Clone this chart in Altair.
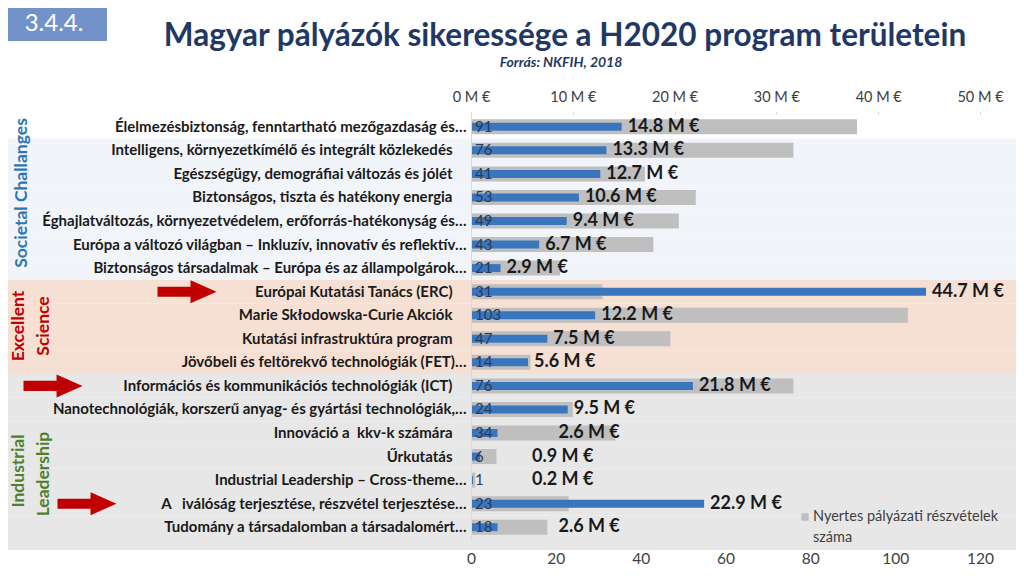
import altair as alt
import pandas as pd

# ---------------- data ----------------
categories = [
    "Élelmezésbiztonság, fenntartható mezőgazdaság és…",
    "Intelligens, környezetkímélő és integrált közlekedés",
    "Egészségügy, demográfiai változás és jólét",
    "Biztonságos, tiszta és hatékony energia",
    "Éghajlatváltozás, környezetvédelem, erőforrás-hatékonyság és…",
    "Európa a változó világban – Inkluzív, innovatív és reflektív…",
    "Biztonságos társadalmak – Európa és az állampolgárok…",
    "Európai Kutatási Tanács (ERC)",
    "Marie Skłodowska-Curie Akciók",
    "Kutatási infrastruktúra program",
    "Jövőbeli és feltörekvő technológiák (FET)…",
    "Információs és kommunikációs technológiák (ICT)",
    "Nanotechnológiák, korszerű anyag- és gyártási technológiák,…",
    "Innováció a\u00a0 kkv-k számára",
    "Űrkutatás",
    "Industrial Leadership – Cross-theme…",
    "A\u00a0\u00a0\u00a0iválóság terjesztése, részvétel terjesztése…",
    "Tudomány a társadalomban a társadalomért…",
]
groups = (["Societal Challenges"] * 7 + ["Excellent Science"] * 4
          + ["Industrial Leadership"] * 7)
counts = [91, 76, 41, 53, 49, 43, 21, 31, 103, 47, 14, 76, 24, 34, 6, 1, 23, 18]
meur = [14.8, 13.3, 12.7, 10.6, 9.4, 6.7, 2.9, 44.7, 12.2, 7.5, 5.6,
        21.8, 9.5, 2.6, 0.9, 0.2, 22.9, 2.6]
band_colors = (["#FFFFFF"] + ["#F1F5FA"] * 6 + ["#F6DFD3"] * 4
               + ["#E7E7E7"] * 7)
arrow_rows = [categories[7], categories[11], categories[16]]
arrow_x = [-284, -418, -384]

count_ticks = [0, 20, 40, 60, 80, 100, 120]
eur_ticks = [0, 10, 20, 30, 40, 50]

FONT = "Lato"
W, H = 509, 424

df = pd.DataFrame({"cat": categories, "grp": groups, "cnt": counts,
                   "eur": meur, "bg": band_colors})
df["eur_label"] = df["eur"].map(lambda v: f"{v:.1f} M €")

yaxis = alt.Axis(title=None, labelFont=FONT, labelFontSize=15,
                 labelFontWeight="bold", labelColor="#1a1a1a",
                 labelLimit=470,
                 labelPadding={"condition": {
                     "test": "indexof(datum.value, '…') < 0", "value": 19},
                     "value": 5},
                 ticks=False,
                 domainColor="#D9D9D9", domainWidth=1, grid=False)
Y = alt.Y("cat:N", sort=categories,
          scale=alt.Scale(paddingInner=0, paddingOuter=0), axis=yaxis)

# background bands
bands = alt.Chart(df).mark_rect().encode(
    y=Y, x=alt.value(-463), x2=alt.value(545),
    color=alt.Color("bg:N", scale=None))
strip = alt.Chart(pd.DataFrame({"a": [0]})).mark_rect(color="#E7E7E7").encode(
    x=alt.value(-463), x2=alt.value(545), y=alt.value(H), y2=alt.value(H + 11))

gray = alt.Chart(df).mark_bar(color="#BFBFBF", size=15).encode(
    x=alt.X("cnt:Q", scale=alt.Scale(domain=[0, 120], nice=False),
            axis=alt.Axis(orient="bottom", values=count_ticks, title=None,
                          labelFont=FONT, labelFontSize=15.5,
                          labelColor="#404040", grid=False, tickSize=0,
                          labelFlush=False,
                          labelPadding=12, domainColor="#D9D9D9")),
    y=Y)

blue = alt.Chart(df).mark_bar(color="#3A76BD", size=8).encode(
    x=alt.X("eur:Q", scale=alt.Scale(domain=[0, 50], nice=False),
            axis=alt.Axis(orient="top", values=eur_ticks, title=None,
                          labelExpr="datum.value + ' M €'",
                          labelFont=FONT, labelFontSize=14.5,
                          labelColor="#404040", grid=False, tickSize=4,
                          labelFlush=False,
                          tickColor="#D9D9D9", labelPadding=7,
                          domainColor="#D9D9D9")),
    y=Y)
cnt_text = alt.Chart(df).mark_text(align="left", dx=4, font=FONT,
                                   fontSize=15, color="#2B3A55").encode(
    x=alt.datum(0), y=Y, text="cnt:Q")
eur_text = alt.Chart(df).transform_calculate(
    lx="datum.eur < 1 ? 5.4 : (datum.eur < 2.7 ? 8.0 : datum.eur)"
).mark_text(align="left", dx=6, font=FONT, fontSize=18, fontWeight="bold",
            color="#1a1a1a").encode(
    x="lx:Q", y=Y, text="eur_label:N")

# annotations
arrow_path = ("M-1,-0.17 L0.12,-0.17 L0.12,-0.39 L1,0 L0.12,0.39 "
              "L0.12,0.17 L-1,0.17 Z")
adf = pd.DataFrame({"cat": arrow_rows, "ax": arrow_x})
arrows = alt.Chart(adf).mark_point(shape=arrow_path, filled=True,
                                   color="#C00000", opacity=1, size=3481,
                                   strokeWidth=0).encode(
    x=alt.X("ax:Q", scale=None), y=Y)

def txt(text, x, y, size, color, weight="normal", angle=0, style="normal",
        align="center"):
    return alt.Chart(pd.DataFrame({"t": [text]})).mark_text(
        font=FONT, fontSize=size, fontWeight=weight, color=color,
        angle=angle, fontStyle=style, align=align, baseline="middle").encode(
        x=alt.value(x), y=alt.value(y), text="t:N")

box = alt.Chart(pd.DataFrame({"a": [0]})).mark_rect(color="#7392C9").encode(
    x=alt.value(-463), x2=alt.value(-364), y=alt.value(-107), y2=alt.value(-74))

legend_sq = alt.Chart(pd.DataFrame({"a": [0]})).mark_point(
    shape="square", filled=True, color="#BFBFBF", opacity=1, size=55).encode(
    x=alt.value(334), y=alt.value(402))

annos = alt.layer(
    box,
    txt("3.4.4.", -417, -91, 24, "white"),
    txt("Magyar pályázók sikeressége a H2020 program területein", 94, -78,
        31.5, "#1F3864", "bold"),
    txt("Forrás: NKFIH, 2018", 90, -52, 14, "#1F3864", "bold", style="italic"),
    txt("Societal Challanges", -449, 78, 17.5, "#2E75B6", "bold", 270),
    txt("Excellent", -452, 211, 17.5, "#C00000", "bold", 270),
    txt("Science", -427, 211, 17.5, "#C00000", "bold", 270),
    txt("Industrial", -452, 356, 17.5, "#4F7F2E", "bold", 270),
    txt("Leadership", -427, 359, 17.5, "#4F7F2E", "bold", 270),
    legend_sq,
    txt("Nyertes pályázati részvételek", 342, 402, 14.5, "#404040",
        align="left"),
    txt("száma", 342, 423, 14.5, "#404040", align="left"),
    arrows,
)

chart = alt.layer(
    alt.layer(bands, strip, gray),
    alt.layer(blue, cnt_text, eur_text),
    annos,
).resolve_scale(x="independent").properties(
    width=W, height=H,
    autosize=alt.AutoSizeParams(type="none"),
    padding={"left": 463, "top": 107, "right": 36, "bottom": 29},
    background="white",
).configure_view(stroke=None)

chart.save("out.html", embed_options={"renderer": "svg", "actions": False})
